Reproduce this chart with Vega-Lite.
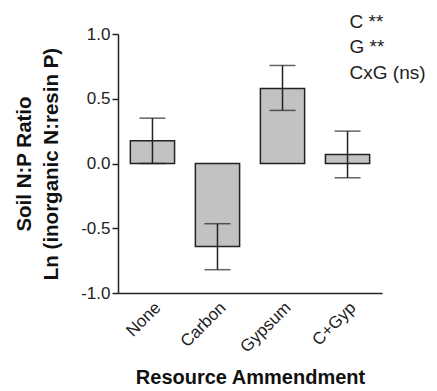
{
  "$schema": "https://vega.github.io/schema/vega-lite/v6.json",
  "autosize": "none",
  "width": 264,
  "height": 259,
  "padding": {"left": 118, "top": 34, "right": 55, "bottom": 98},
  "background": "white",
  "config": {
    "font": "Liberation Sans",
    "view": {"stroke": null},
    "axis": {"grid": false, "domainColor": "#222", "domainWidth": 1.5, "tickColor": "#222", "tickWidth": 1.5, "labelColor": "#222", "titleColor": "#111", "labelFont": "Liberation Sans", "titleFont": "Liberation Sans"}
  },
  "datasets": {
    "bars": [
      {"treatment": "None", "mean": 0.175, "lo": 0.0, "hi": 0.35},
      {"treatment": "Carbon", "mean": -0.64, "lo": -0.82, "hi": -0.465},
      {"treatment": "Gypsum", "mean": 0.58, "lo": 0.41, "hi": 0.757},
      {"treatment": "C+Gyp", "mean": 0.07, "lo": -0.11, "hi": 0.25}
    ],
    "notes": [
      {"treatment": "C+Gyp", "y": 1.09, "label": "C **"},
      {"treatment": "C+Gyp", "y": 0.9, "label": "G **"},
      {"treatment": "C+Gyp", "y": 0.7, "label": "CxG (ns)"}
    ]
  },
  "data": {"name": "bars"},
  "encoding": {
    "x": {
      "field": "treatment", "type": "nominal",
      "sort": ["None", "Carbon", "Gypsum", "C+Gyp"],
      "scale": {"paddingInner": 0.32, "paddingOuter": 0.19},
      "axis": {
        "title": "Resource Ammendment",
        "titleFontSize": 20, "titleFontWeight": "bold", "titlePadding": 12,
        "labelAngle": -45, "labelFontSize": 17, "ticks": false, "labelPadding": 6
      }
    }
  },
  "layer": [
    {
      "mark": {"type": "bar", "fill": "#c2c2c2", "stroke": "#222", "strokeWidth": 1.5},
      "encoding": {
        "y": {
          "field": "mean", "type": "quantitative",
          "scale": {"domain": [-1, 1], "nice": false},
          "axis": {
            "title": ["Soil N:P Ratio", "Ln (inorganic N:resin P)"],
            "titleFontSize": 20.5, "titleFontWeight": "bold", "titleLineHeight": 27, "titlePadding": 19,
            "values": [-1, -0.75, -0.5, -0.25, 0, 0.25, 0.5, 0.75, 1],
            "labelExpr": "abs(datum.value*2 - round(datum.value*2)) < 0.001 ? replace(format(datum.value, '.1f'), '\u2212', '-') : ''",
            "labelFontSize": 17, "tickSize": 6, "labelPadding": 2
          }
        }
      }
    },
    {
      "mark": {"type": "rule", "color": "#222", "strokeWidth": 1.5},
      "encoding": {"y": {"datum": 0}}
    },
    {
      "mark": {"type": "rule", "color": "#222", "strokeWidth": 1.5},
      "encoding": {"y": {"field": "lo", "type": "quantitative"}, "y2": {"field": "hi"}}
    },
    {
      "mark": {"type": "tick", "color": "#222", "thickness": 1.5, "size": 26},
      "encoding": {"y": {"field": "lo", "type": "quantitative"}}
    },
    {
      "mark": {"type": "tick", "color": "#222", "thickness": 1.5, "size": 26},
      "encoding": {"y": {"field": "hi", "type": "quantitative"}}
    },
    {
      "data": {"name": "notes"},
      "mark": {"type": "text", "align": "left", "baseline": "middle", "fontSize": 19, "color": "#222", "dx": 2, "clip": false},
      "encoding": {
        "y": {"field": "y", "type": "quantitative"},
        "text": {"field": "label"}
      }
    }
  ]
}
